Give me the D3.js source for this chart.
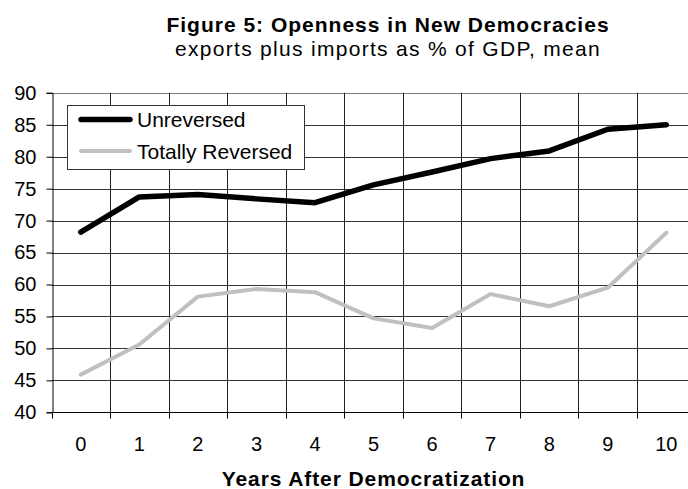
<!DOCTYPE html>
<html>
<head>
<meta charset="utf-8">
<script src="https://cdn.jsdelivr.net/npm/d3@7"></script>
<style>
  html, body { margin: 0; padding: 0; background: #fff; }
  svg { display: block; overflow: hidden; }
  text { font-family: "Liberation Sans", Arial, sans-serif; fill: #000; }
</style>
</head>
<body>
<svg id="chart" width="688" height="489"></svg>
<script>
// Years after democratization (category axis)
const years = [0, 1, 2, 3, 4, 5, 6, 7, 8, 9, 10];
// Trade openness: exports plus imports as % of GDP, mean
const unreversed = [68.2, 73.7, 74.1, 73.4, 72.8, 75.6, 77.6, 79.7, 80.9, 84.3, 85.0];
const totallyReversed = [45.9, 50.6, 58.1, 59.3, 58.8, 54.7, 53.2, 58.5, 56.6, 59.5, 68.1];
// Value axis ticks
const yTicks = [40, 45, 50, 55, 60, 65, 70, 75, 80, 85, 90];

const seriesNames = ["Unreversed", "Totally Reversed"];
const seriesValues = [unreversed, totallyReversed];
const seriesColors = ["#000000", "#c0c0c0"];
const seriesWidths = [5.5, 4];

const svg = d3.select("#chart");
// The chart area runs a little past the right edge of the page
const chartWidth = 776;
const plotLeft = 51.5, plotRight = 695.6, plotTop = 92.8, plotBottom = 412.3;

const x = d3.scaleBand().domain(years).range([plotLeft, plotRight]).paddingInner(0).paddingOuter(0);
const y = d3.scaleLinear().domain([40, 90]).range([plotBottom, plotTop]);
const cx = d => x(d) + x.bandwidth() / 2;

// Horizontal gridlines
svg.append("g")
  .selectAll("line")
  .data(yTicks)
  .join("line")
  .attr("x1", plotLeft).attr("x2", plotRight)
  .attr("y1", d => Math.round(y(d)) + 0.5).attr("y2", d => Math.round(y(d)) + 0.5)
  .attr("stroke", d => d === 90 ? "#777" : "#333")
  .attr("stroke-width", 1);

// Vertical gridlines at category boundaries
const bounds = years.slice(1).map(d => x(d)).concat([plotRight]);
svg.append("g")
  .selectAll("line")
  .data(bounds)
  .join("line")
  .attr("x1", d => Math.round(d) + 0.5).attr("x2", d => Math.round(d) + 0.5)
  .attr("y1", plotTop).attr("y2", plotBottom)
  .attr("stroke", "#222")
  .attr("stroke-width", 1);

// Value axis
const yAxis = d3.axisLeft(y).tickValues(yTicks).tickSize(6).tickPadding(10).tickFormat(d3.format("d"));
const gy = svg.append("g").attr("transform", `translate(${Math.round(plotLeft) + 0.5},0)`).call(yAxis);
gy.select(".domain").attr("stroke", "#000");
gy.selectAll(".tick line").attr("stroke", "#000");
gy.selectAll(".tick text")
  .style("font-family", "Liberation Sans, Arial, sans-serif")
  .style("font-size", "20px").attr("fill", "#000");

// Category axis: ticks at boundaries, labels centred in bands
const xAxisY = Math.round(plotBottom) + 0.5;
svg.append("line")
  .attr("x1", plotLeft).attr("x2", plotRight).attr("y1", xAxisY).attr("y2", xAxisY)
  .attr("stroke", "#000");
svg.append("g")
  .selectAll("line")
  .data([x(0)].concat(bounds))
  .join("line")
  .attr("x1", d => Math.round(d) + 0.5).attr("x2", d => Math.round(d) + 0.5)
  .attr("y1", xAxisY).attr("y2", xAxisY + 6)
  .attr("stroke", "#000");
svg.append("g")
  .selectAll("text")
  .data(years)
  .join("text")
  .attr("x", d => cx(d))
  .attr("y", 450.5)
  .attr("text-anchor", "middle")
  .style("font-size", "20px")
  .text(d => d);

// Series lines
const line = d3.line().x((d, i) => cx(years[i])).y(d => y(d));
[1, 0].forEach(i => {
  svg.append("path")
    .datum(seriesValues[i])
    .attr("d", line)
    .attr("fill", "none")
    .attr("stroke", seriesColors[i])
    .attr("stroke-width", seriesWidths[i])
    .attr("stroke-linejoin", "round")
    .attr("stroke-linecap", "round");
});

// Legend
const lg = svg.append("g");
lg.append("rect")
  .attr("x", 67.5).attr("y", 105.5).attr("width", 237).attr("height", 64)
  .attr("fill", "#fff").attr("stroke", "#333").attr("stroke-width", 1);
seriesNames.forEach((name, i) => {
  const ly = 119.5 + i * 31.5;
  lg.append("line")
    .attr("x1", 81).attr("x2", 130).attr("y1", ly).attr("y2", ly)
    .attr("stroke", seriesColors[i]).attr("stroke-width", seriesWidths[i])
    .attr("stroke-linecap", "round");
  lg.append("text")
    .attr("x", 137).attr("y", ly + 7.5)
    .style("font-size", "21px")
    .text(name);
});

// Chart titles, centred on the full chart area
const chartMid = chartWidth / 2;
svg.append("text")
  .attr("x", chartMid).attr("y", 32)
  .attr("text-anchor", "middle")
  .style("font-size", "21px").style("font-weight", "bold").style("letter-spacing", "1px")
  .text("Figure 5: Openness in New Democracies");
svg.append("text")
  .attr("x", chartMid).attr("y", 56)
  .attr("text-anchor", "middle")
  .style("font-size", "21px").style("letter-spacing", "1.3px")
  .text("exports plus imports as % of GDP, mean");
// Axis title, centred on the plot area
svg.append("text")
  .attr("x", (plotLeft + plotRight) / 2).attr("y", 485.5)
  .attr("text-anchor", "middle")
  .style("font-size", "21px").style("font-weight", "bold").style("letter-spacing", "0.9px")
  .text("Years After Democratization");
</script>
</body>
</html>
